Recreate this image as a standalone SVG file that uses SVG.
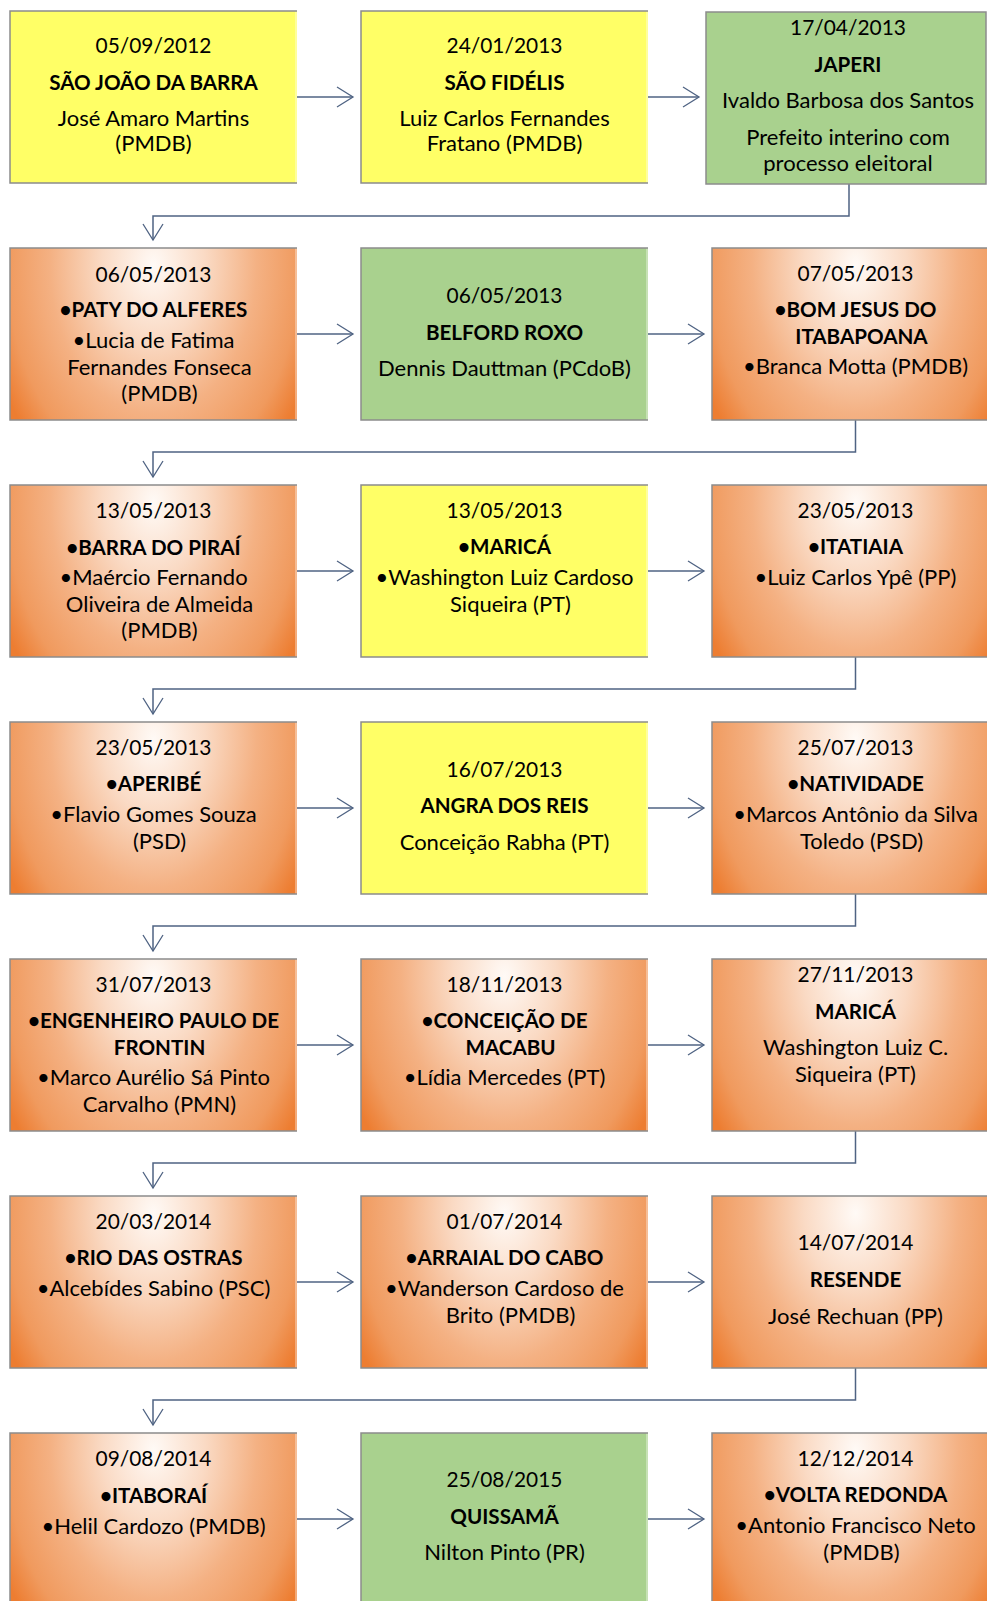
<svg xmlns="http://www.w3.org/2000/svg" width="987" height="1601" viewBox="0 0 987 1601">
<style>
.t{font-family:Lato,"Liberation Sans",sans-serif;font-size:22px;text-anchor:middle;fill:#000}
.d{font-size:20.9px}
.b{font-weight:bold;font-size:20.6px}
.bd{fill:none;stroke:#8C8C8C;stroke-width:1.5}
.y{fill:#FFFF66}
.g{fill:#A9D18E}
.o{fill:url(#og)}
.hl{fill:#fff;opacity:0.35}
.c{fill:none;stroke:#4F6383;stroke-width:1.5}
</style>
<defs>
<radialGradient id="og" cx="0.5" cy="0.1" r="0.6" gradientTransform="translate(0.5 0.1) scale(1 2.4) translate(-0.5 -0.1)">
<stop offset="0" stop-color="#FFFAF6"/>
<stop offset="0.3" stop-color="#FADAC4"/>
<stop offset="0.6" stop-color="#F4B183"/>
<stop offset="0.85" stop-color="#F09A5E"/>
<stop offset="1" stop-color="#ED7D31"/>
</radialGradient>
<marker id="ah" markerWidth="20" markerHeight="24" refX="18" refY="12" orient="auto" markerUnits="userSpaceOnUse" viewBox="0 0 20 24">
<path d="M2,2 L18,12 L2,22" fill="none" stroke="#4F6383" stroke-width="1.3"/>
</marker>
</defs>
<rect width="987" height="1601" fill="#fff"/>

<g id="connectors">
<path class="c" d="M297,97 H353" marker-end="url(#ah)"/>
<path class="c" d="M648,97 H699" marker-end="url(#ah)"/>
<path class="c" d="M849,184 V216 H153 V240" marker-end="url(#ah)"/>
<path class="c" d="M297,334 H353" marker-end="url(#ah)"/>
<path class="c" d="M648,334 H704" marker-end="url(#ah)"/>
<path class="c" d="M855.5,420 V452 H153 V477" marker-end="url(#ah)"/>
<path class="c" d="M297,571 H353" marker-end="url(#ah)"/>
<path class="c" d="M648,571 H704" marker-end="url(#ah)"/>
<path class="c" d="M855.5,657 V689 H153 V714" marker-end="url(#ah)"/>
<path class="c" d="M297,808 H353" marker-end="url(#ah)"/>
<path class="c" d="M648,808 H704" marker-end="url(#ah)"/>
<path class="c" d="M855.5,894 V926 H153 V951" marker-end="url(#ah)"/>
<path class="c" d="M297,1045 H353" marker-end="url(#ah)"/>
<path class="c" d="M648,1045 H704" marker-end="url(#ah)"/>
<path class="c" d="M855.5,1131 V1163 H153 V1188" marker-end="url(#ah)"/>
<path class="c" d="M297,1282 H353" marker-end="url(#ah)"/>
<path class="c" d="M648,1282 H704" marker-end="url(#ah)"/>
<path class="c" d="M855.5,1368 V1400 H153 V1425" marker-end="url(#ah)"/>
<path class="c" d="M297,1519 H353" marker-end="url(#ah)"/>
<path class="c" d="M648,1519 H704" marker-end="url(#ah)"/>
</g>

<!-- Row 1 -->
<g id="n1">
<rect class="y" x="10" y="11" width="287" height="172"/>
<rect class="hl" x="295" y="11" width="2" height="172"/>
<path class="bd" d="M297,11 H10 V183 H297"/>
<text class="t d" x="153.5" y="53">05/09/2012</text>
<text class="t b" x="153.5" y="90">SÃO JOÃO DA BARRA</text>
<text class="t" x="153.5" y="126">José Amaro Martins</text>
<text class="t" x="153.5" y="151">(PMDB)</text>
</g>
<g id="n2">
<rect class="y" x="361" y="11" width="287" height="172"/>
<rect class="hl" x="646" y="11" width="2" height="172"/>
<path class="bd" d="M648,11 H361 V183 H648"/>
<text class="t d" x="504.5" y="53">24/01/2013</text>
<text class="t b" x="504.5" y="90">SÃO FIDÉLIS</text>
<text class="t" x="504.5" y="126">Luiz Carlos Fernandes</text>
<text class="t" x="504.5" y="151">Fratano (PMDB)</text>
</g>
<g id="n3">
<rect class="g bd" x="706" y="12" width="280" height="172" style="fill:#A9D18E"/>
<text class="t d" x="848" y="35">17/04/2013</text>
<text class="t b" x="848" y="72">JAPERI</text>
<text class="t" x="848" y="108">Ivaldo Barbosa dos Santos</text>
<text class="t" x="848" y="145">Prefeito interino com</text>
<text class="t" x="848" y="171">processo eleitoral</text>
</g>

<!-- Row 2 -->
<g id="n4">
<rect class="o" x="10" y="248" width="287" height="172"/>
<rect class="hl" x="295" y="248" width="2" height="172"/>
<path class="bd" d="M297,248 H10 V420 H297"/>
<text class="t d" x="153.5" y="282">06/05/2013</text>
<text class="t b" x="153.5" y="317">•PATY DO ALFERES</text>
<text class="t" x="153.5" y="348">•Lucia de Fatima</text>
<text class="t" x="159.5" y="375">Fernandes Fonseca</text>
<text class="t" x="159.5" y="401">(PMDB)</text>
</g>
<g id="n5">
<rect class="g" x="361" y="248" width="287" height="172"/>
<rect class="hl" x="646" y="248" width="2" height="172"/>
<path class="bd" d="M648,248 H361 V420 H648"/>
<text class="t d" x="504.5" y="303">06/05/2013</text>
<text class="t b" x="504.5" y="340">BELFORD ROXO</text>
<text class="t" x="504.5" y="376">Dennis Dauttman (PCdoB)</text>
</g>
<g id="n6">
<rect class="o" x="712" y="248" width="287" height="172"/>
<path class="bd" d="M999,248 H712 V420 H999"/>
<text class="t d" x="855.5" y="281">07/05/2013</text>
<text class="t b" x="855.5" y="317">•BOM JESUS DO</text>
<text class="t b" x="861.5" y="344">ITABAPOANA</text>
<text class="t" x="855.5" y="374">•Branca Motta (PMDB)</text>
</g>

<!-- Row 3 -->
<g id="n7">
<rect class="o" x="10" y="485" width="287" height="172"/>
<rect class="hl" x="295" y="485" width="2" height="172"/>
<path class="bd" d="M297,485 H10 V657 H297"/>
<text class="t d" x="153.5" y="518">13/05/2013</text>
<text class="t b" x="153.5" y="555">•BARRA DO PIRAÍ</text>
<text class="t" x="153.5" y="585">•Maércio Fernando</text>
<text class="t" x="159.5" y="612">Oliveira de Almeida</text>
<text class="t" x="159.5" y="638">(PMDB)</text>
</g>
<g id="n8">
<rect class="y" x="361" y="485" width="287" height="172"/>
<rect class="hl" x="646" y="485" width="2" height="172"/>
<path class="bd" d="M648,485 H361 V657 H648"/>
<text class="t d" x="504.5" y="518">13/05/2013</text>
<text class="t b" x="504.5" y="554">•MARICÁ</text>
<text class="t" x="504.5" y="585">•Washington Luiz Cardoso</text>
<text class="t" x="510.5" y="612">Siqueira (PT)</text>
</g>
<g id="n9">
<rect class="o" x="712" y="485" width="287" height="172"/>
<path class="bd" d="M999,485 H712 V657 H999"/>
<text class="t d" x="855.5" y="518">23/05/2013</text>
<text class="t b" x="855.5" y="554">•ITATIAIA</text>
<text class="t" x="855.5" y="585">•Luiz Carlos Ypê (PP)</text>
</g>

<!-- Row 4 -->
<g id="n10">
<rect class="o" x="10" y="722" width="287" height="172"/>
<rect class="hl" x="295" y="722" width="2" height="172"/>
<path class="bd" d="M297,722 H10 V894 H297"/>
<text class="t d" x="153.5" y="755">23/05/2013</text>
<text class="t b" x="153.5" y="791">•APERIBÉ</text>
<text class="t" x="153.5" y="822">•Flavio Gomes Souza</text>
<text class="t" x="159.5" y="849">(PSD)</text>
</g>
<g id="n11">
<rect class="y" x="361" y="722" width="287" height="172"/>
<rect class="hl" x="646" y="722" width="2" height="172"/>
<path class="bd" d="M648,722 H361 V894 H648"/>
<text class="t d" x="504.5" y="777">16/07/2013</text>
<text class="t b" x="504.5" y="813">ANGRA DOS REIS</text>
<text class="t" x="504.5" y="850">Conceição Rabha (PT)</text>
</g>
<g id="n12">
<rect class="o" x="712" y="722" width="287" height="172"/>
<path class="bd" d="M999,722 H712 V894 H999"/>
<text class="t d" x="855.5" y="755">25/07/2013</text>
<text class="t b" x="855.5" y="791">•NATIVIDADE</text>
<text class="t" x="855.5" y="822">•Marcos Antônio da Silva</text>
<text class="t" x="861.5" y="849">Toledo (PSD)</text>
</g>

<!-- Row 5 -->
<g id="n13">
<rect class="o" x="10" y="959" width="287" height="172"/>
<rect class="hl" x="295" y="959" width="2" height="172"/>
<path class="bd" d="M297,959 H10 V1131 H297"/>
<text class="t d" x="153.5" y="992">31/07/2013</text>
<text class="t b" x="153.5" y="1028">•ENGENHEIRO PAULO DE</text>
<text class="t b" x="159.5" y="1055">FRONTIN</text>
<text class="t" x="153.5" y="1085">•Marco Aurélio Sá Pinto</text>
<text class="t" x="159.5" y="1112">Carvalho (PMN)</text>
</g>
<g id="n14">
<rect class="o" x="361" y="959" width="287" height="172"/>
<rect class="hl" x="646" y="959" width="2" height="172"/>
<path class="bd" d="M648,959 H361 V1131 H648"/>
<text class="t d" x="504.5" y="992">18/11/2013</text>
<text class="t b" x="504.5" y="1028">•CONCEIÇÃO DE</text>
<text class="t b" x="510.5" y="1055">MACABU</text>
<text class="t" x="504.5" y="1085">•Lídia Mercedes (PT)</text>
</g>
<g id="n15">
<rect class="o" x="712" y="959" width="287" height="172"/>
<path class="bd" d="M999,959 H712 V1131 H999"/>
<text class="t d" x="855.5" y="982">27/11/2013</text>
<text class="t b" x="855.5" y="1018.5">MARICÁ</text>
<text class="t" x="855.5" y="1055">Washington Luiz C.</text>
<text class="t" x="855.5" y="1082">Siqueira (PT)</text>
</g>

<!-- Row 6 -->
<g id="n16">
<rect class="o" x="10" y="1196" width="287" height="172"/>
<rect class="hl" x="295" y="1196" width="2" height="172"/>
<path class="bd" d="M297,1196 H10 V1368 H297"/>
<text class="t d" x="153.5" y="1229">20/03/2014</text>
<text class="t b" x="153.5" y="1265">•RIO DAS OSTRAS</text>
<text class="t" x="153.5" y="1296">•Alcebídes Sabino (PSC)</text>
</g>
<g id="n17">
<rect class="o" x="361" y="1196" width="287" height="172"/>
<rect class="hl" x="646" y="1196" width="2" height="172"/>
<path class="bd" d="M648,1196 H361 V1368 H648"/>
<text class="t d" x="504.5" y="1229">01/07/2014</text>
<text class="t b" x="504.5" y="1265">•ARRAIAL DO CABO</text>
<text class="t" x="504.5" y="1296">•Wanderson Cardoso de</text>
<text class="t" x="510.5" y="1323">Brito (PMDB)</text>
</g>
<g id="n18">
<rect class="o" x="712" y="1196" width="287" height="172"/>
<path class="bd" d="M999,1196 H712 V1368 H999"/>
<text class="t d" x="855.5" y="1250">14/07/2014</text>
<text class="t b" x="855.5" y="1287">RESENDE</text>
<text class="t" x="855.5" y="1324">José Rechuan (PP)</text>
</g>

<!-- Row 7 -->
<g id="n19">
<rect class="o" x="10" y="1433" width="287" height="172"/>
<rect class="hl" x="295" y="1433" width="2" height="172"/>
<path class="bd" d="M297,1433 H10 V1605 H297"/>
<text class="t d" x="153.5" y="1466">09/08/2014</text>
<text class="t b" x="153.5" y="1503">•ITABORAÍ</text>
<text class="t" x="153.5" y="1534">•Helil Cardozo (PMDB)</text>
</g>
<g id="n20">
<rect class="g" x="361" y="1433" width="287" height="172"/>
<rect class="hl" x="646" y="1433" width="2" height="172"/>
<path class="bd" d="M648,1433 H361 V1605 H648"/>
<text class="t d" x="504.5" y="1487">25/08/2015</text>
<text class="t b" x="504.5" y="1524">QUISSAMÃ</text>
<text class="t" x="504.5" y="1560">Nilton Pinto (PR)</text>
</g>
<g id="n21">
<rect class="o" x="712" y="1433" width="287" height="172"/>
<path class="bd" d="M999,1433 H712 V1605 H999"/>
<text class="t d" x="855.5" y="1466">12/12/2014</text>
<text class="t b" x="855.5" y="1502">•VOLTA REDONDA</text>
<text class="t" x="855.5" y="1533">•Antonio Francisco Neto</text>
<text class="t" x="861.5" y="1560">(PMDB)</text>
</g>
</svg>
